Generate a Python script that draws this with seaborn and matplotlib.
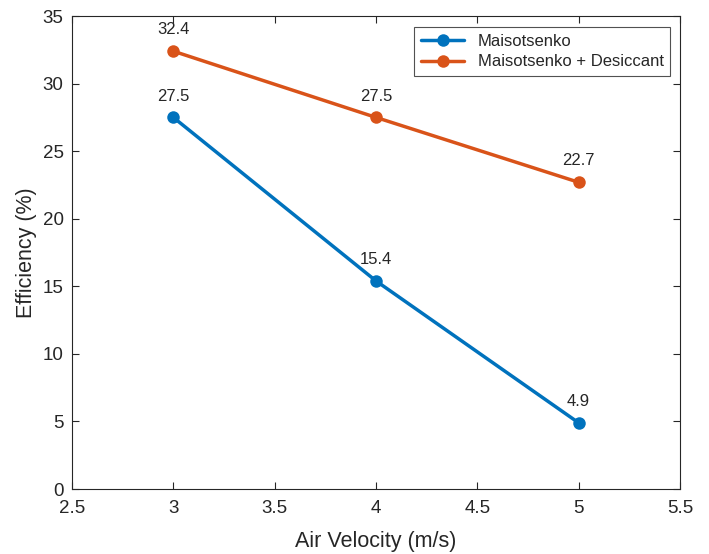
import matplotlib
matplotlib.use("Agg")
import matplotlib.pyplot as plt
import seaborn as sns
import pandas as pd

velocity = [3, 4, 5]
maisotsenko = [27.5, 15.4, 4.9]
desiccant = [32.4, 27.5, 22.7]
series_names = ["Maisotsenko", "Maisotsenko + Desiccant"]

df = pd.DataFrame({
    "Air Velocity": velocity * 2,
    "Efficiency": maisotsenko + desiccant,
    "Series": [series_names[0]] * 3 + [series_names[1]] * 3,
})

sns.set_style("white")
plt.rcParams['font.family'] = ['Liberation Sans', 'DejaVu Sans']

fig = plt.figure(figsize=(7.09, 5.54), dpi=100)
ax = fig.add_axes([0.1016, 0.1173, 0.8574, 0.8537])

palette = {series_names[0]: "#0072BD", series_names[1]: "#D95319"}
sns.lineplot(data=df, x="Air Velocity", y="Efficiency", hue="Series", palette=palette,
             marker="o", markersize=9, linewidth=2.5, markeredgewidth=0, ax=ax)

for xs, ys in [(velocity, maisotsenko), (velocity, desiccant)]:
    for x, y in zip(xs, ys):
        ax.annotate(f"{y:g}", (x, y), xytext=(0, 10), textcoords="offset points",
                    ha="center", va="bottom", fontsize=12)

ax.set_xlim(2.5, 5.5)
ax.set_ylim(0, 35)
ax.set_xticks([2.5, 3, 3.5, 4, 4.5, 5, 5.5])
ax.set_xticklabels(["2.5", "3", "3.5", "4", "4.5", "5", "5.5"])
ax.set_yticks(range(0, 36, 5))
ax.tick_params(direction="in", length=5, labelsize=13.5, colors="#262626", top=True, right=True,
               bottom=True, left=True)
ax.tick_params(axis="x", pad=8)
ax.tick_params(axis="y", pad=6)
for s in ax.spines.values():
    s.set_color("#262626")
    s.set_linewidth(0.8)
ax.set_xlabel("Air Velocity (m/s)", fontsize=15.5, color="#262626", labelpad=10)
ax.set_ylabel("Efficiency (%)", fontsize=15.5, color="#262626", labelpad=4)

leg = ax.legend(loc="upper right", fontsize=12, frameon=True, fancybox=False,
                edgecolor="#262626", handlelength=2.6, borderpad=0.4, labelspacing=0.35,
                bbox_to_anchor=(0.984, 0.977), borderaxespad=0)
leg.get_frame().set_linewidth(0.8)

fig.savefig("out.png", dpi=100)
